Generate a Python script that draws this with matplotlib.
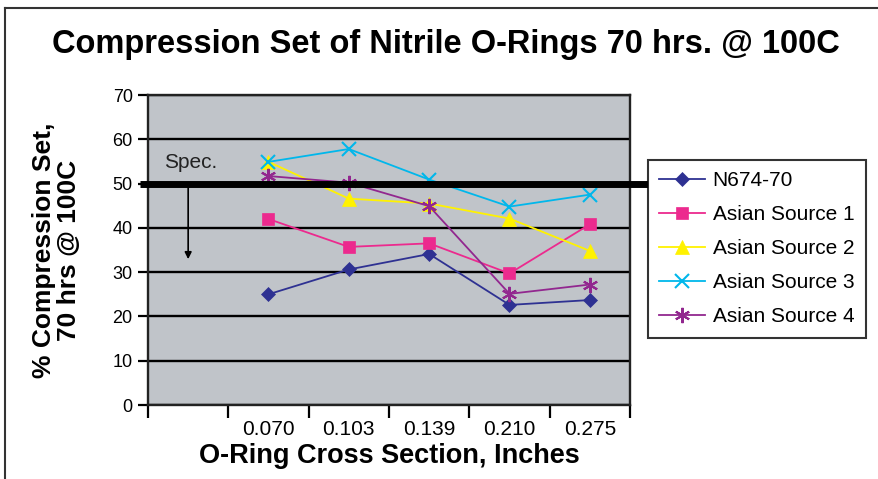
import numpy as np
import matplotlib
matplotlib.use("Agg")
import matplotlib.pyplot as plt
from matplotlib.lines import Line2D

# data
categories = ['', '0.070', '0.103', '0.139', '0.210', '0.275']
n674 = [25.0, 30.6, 34.1, 22.6, 23.7]
asian1 = [42.0, 35.7, 36.5, 29.7, 40.8]
asian2 = [54.9, 46.6, 45.5, 42.1, 34.8]
asian3 = [54.9, 57.8, 50.9, 44.8, 47.5]
asian4 = [51.7, 50.2, 44.9, 25.1, 27.2]
spec_limit = 50
yticks = [0, 10, 20, 30, 40, 50, 60, 70]

plt.rcParams['font.family'] = ['Liberation Sans', 'DejaVu Sans']

fig = plt.figure(figsize=(8.79, 4.79), dpi=100)
ax = fig.add_axes([148 / 879, 1 - 405 / 479, (630 - 148) / 879, (405 - 95) / 479])
ax.set_facecolor('#c0c4c9')

x = np.arange(1, len(categories))
series = [
    ('N674-70', n674, '#2e3192', 'D', 7),
    ('Asian Source 1', asian1, '#ec2a8e', 's', 8),
    ('Asian Source 2', asian2, '#fff200', '^', 10),
    ('Asian Source 3', asian3, '#00b7eb', 'x', 10),
    ('Asian Source 4', asian4, '#92278f', (6, 2, 0), 11),
]
for name, vals, col, mk, ms in series:
    ax.plot(x, vals, color=col, marker=mk, markersize=ms, lw=1.3,
            markeredgewidth=1.5 if mk in ('x', (6, 2, 0)) else 0.5,
            markeredgecolor=col, label=name, zorder=3)

ax.set_xlim(-0.5, len(categories) - 0.5)
ax.set_ylim(0, 70)
ax.set_yticks(yticks)
ax.yaxis.grid(True, color='black', lw=1.7)
ax.set_axisbelow(True)

ax.set_xticks(np.arange(len(categories)))
ax.set_xticklabels(categories, fontsize=15)
ax.set_xticks(np.arange(len(categories) + 1) - 0.5, minor=True)
ax.tick_params(axis='x', which='major', length=0, pad=11)
ax.tick_params(axis='x', which='minor', length=9, width=1.6, direction='out')
ax.tick_params(axis='y', length=7, width=1.6, labelsize=13, pad=4)

for s in ax.spines.values():
    s.set_linewidth(1.7)
    s.set_color('#222222')

# spec line and arrow
ax.plot([-0.6, 5.73], [spec_limit, spec_limit], color='black', lw=5,
        clip_on=False, zorder=4, solid_capstyle='butt')
ax.annotate('', xy=(0.0, 32.3), xytext=(0.0, spec_limit),
            arrowprops=dict(arrowstyle='-|>', color='black', lw=1.2,
                            mutation_scale=10), zorder=4)
ax.text(-0.3, 54.8, 'Spec.', fontsize=15, va='center', ha='left', color='#222222')

ax.set_ylabel('% Compression Set,\n70 hrs @ 100C', fontsize=19, fontweight='bold',
              linespacing=1.05)
ax.yaxis.set_label_coords(-0.14, 0.5)
ax.set_xlabel('O-Ring Cross Section, Inches', fontsize=19.5, fontweight='bold',
              labelpad=3)

fig.text(446 / 879, 1 - 45 / 479, 'Compression Set of Nitrile O-Rings 70 hrs. @ 100C',
         ha='center', va='center', fontsize=23.5, fontweight='bold')

leg = ax.legend(loc='upper left', bbox_to_anchor=(648 / 879, 1 - 160 / 479),
                bbox_transform=fig.transFigure, fontsize=15, frameon=True,
                fancybox=False, edgecolor='black', handlelength=2.2,
                labelspacing=0.72, borderpad=0.55, handletextpad=0.35,
                borderaxespad=0)
leg.get_frame().set_linewidth(1.5)
leg.set_zorder(5)

# outer frame lines
fig.add_artist(Line2D([5 / 879, 5 / 879], [0, 1 - 8 / 479], color='#333333', lw=1.5))
fig.add_artist(Line2D([5 / 879, 1], [1 - 8 / 479, 1 - 8 / 479], color='#333333', lw=1.5))

fig.savefig('out.png', dpi=100)
